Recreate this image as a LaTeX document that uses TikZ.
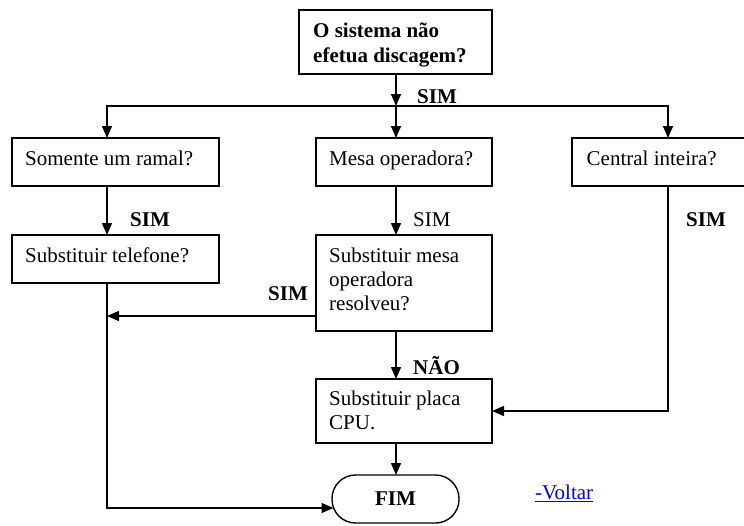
\documentclass[tikz,border=0pt]{standalone}
\usepackage{fontspec}
\setmainfont{Liberation Serif}
\usetikzlibrary{arrows.meta,calc}
\definecolor{linkblue}{RGB}{0,0,255}
\begin{document}
\begin{tikzpicture}[x=1pt,y=-1pt,
  box/.style={draw, line width=1.4pt, inner sep=0pt, outer sep=0pt, anchor=north west},
  txt/.style={anchor=base west, inner sep=0pt, font={\fontsize{21}{24.2}\selectfont}},
  btxt/.style={anchor=base west, inner sep=0pt, font={\fontsize{21}{25.5}\selectfont\bfseries}},
  arr/.style={line width=1.4pt, -{Triangle[length=12pt,width=10pt]}},
  ln/.style={line width=1.4pt}]
\useasboundingbox (0,0) rectangle (744,525);
\clip (0,0) rectangle (744,525);
% boxes
\node[box, minimum width=193pt, minimum height=64pt] (q0) at (299,10) {};
\node[box, minimum width=207pt, minimum height=48pt] (q1) at (12,138) {};
\node[box, minimum width=176pt, minimum height=48pt] (q2) at (316,138) {};
\node[box, minimum width=192pt, minimum height=48pt] (q3) at (572,138) {};
\node[box, minimum width=207pt, minimum height=48pt] (q4) at (12,235) {};
\node[box, minimum width=176pt, minimum height=96pt] (q5) at (316,235) {};
\node[box, minimum width=176pt, minimum height=64pt] (q6) at (316,379) {};
\node[draw, line width=1.4pt, rounded corners=23.5pt, minimum width=127pt, minimum height=48pt,
  inner sep=0pt, outer sep=0pt, font={\fontsize{21}{24}\selectfont\bfseries}] (fim) at (395.5,499) {FIM};
% texts
\node[btxt] (t0) at ($(q0.north west)+(14,27)$) {\parbox[t]{180pt}{O sistema não\\efetua discagem?}};
\node[txt] (t1) at ($(q1.north west)+(13,27)$) {Somente um ramal?};
\node[txt] (t2) at ($(q2.north west)+(13,27)$) {Mesa operadora?};
\node[txt] (t3) at ($(q3.north west)+(14.5,27)$) {Central inteira?};
\node[txt] (t4) at ($(q4.north west)+(13,27)$) {Substituir telefone?};
\node[txt] (t5) at ($(q5.north west)+(13,27)$) {\parbox[t]{165pt}{Substituir mesa\\operadora\\resolveu?}};
\node[txt] (t6) at ($(q6.north west)+(13,26)$) {\parbox[t]{165pt}{Substituir placa\\CPU.}};
% labels
\node[btxt] (l0) at (417,103) {SIM};
\node[btxt] (l1) at (130,226) {SIM};
\node[txt] (l2) at (413,226) {SIM};
\node[btxt] (l3) at (686,226) {SIM};
\node[btxt] (l4) at (268,300) {SIM};
\node[btxt] (l5) at (413,374) {NÃO};
\node[txt, text=linkblue] (v) at (535,499) {-Voltar};
\draw[linkblue, line width=1.3pt] ($(v.base west)+(0,2.5)$) -- ($(v.base east)+(0,2.5)$);
% helper coordinates
\coordinate (xa) at (107,0);
\coordinate (xb) at (396,0);
\coordinate (xc) at (668,0);
\coordinate (ya) at (0,106);
\coordinate (yb) at (0,316);
\coordinate (j) at (xb |- ya);
\coordinate (fa) at (333.5,508);
% connectors
\draw[arr] (q0.south -| xb) -- (j);
\draw[arr] (j) -- (q2.north -| xb);
\draw[arr] (j) -| (q1.north -| xa);
\draw[arr] (j) -| (q3.north -| xc);
\draw[arr] (q1.south -| xa) -- (q4.north -| xa);
\draw[arr] (q4.south -| xa) |- (fa);
\draw[arr] (q5.west |- yb) -- (yb -| xa);
\draw[arr] (q2.south -| xb) -- (q5.north -| xb);
\draw[arr] (q5.south -| xb) -- (q6.north -| xb);
\draw[arr] (q3.south -| xc) |- (q6.east);
\draw[arr] (q6.south -| xb) -- (fim.north -| xb);
\end{tikzpicture}
\end{document}
